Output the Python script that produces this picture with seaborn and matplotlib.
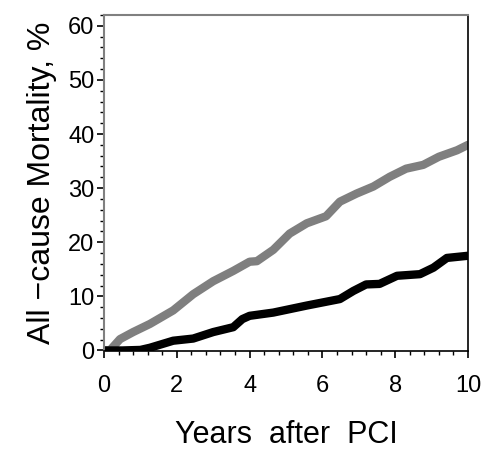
import matplotlib
matplotlib.use("Agg")
import matplotlib.pyplot as plt
from matplotlib.ticker import MultipleLocator
import numpy as np
import pandas as pd
import seaborn as sns

# Kaplan-Meier style cumulative mortality
years_gray = [0.0, 0.16, 0.44, 0.8, 1.26, 1.9, 2.45, 3.0, 3.55, 4.0, 4.2, 4.65,
              5.1, 5.57, 6.1, 6.48, 6.94, 7.4, 7.85, 8.3, 8.77, 9.2, 9.7, 10.0]
mort_gray = [0.0, 0.0, 2.1, 3.4, 4.9, 7.4, 10.4, 12.8, 14.7, 16.4, 16.5, 18.6,
             21.6, 23.5, 24.8, 27.5, 29.0, 30.3, 32.1, 33.6, 34.3, 35.8, 37.0, 38.0]

years_black = [0.0, 0.5, 1.0, 1.26, 1.9, 2.45, 3.0, 3.55, 3.8, 4.0, 4.65, 5.57,
               6.48, 6.85, 7.2, 7.57, 8.05, 8.68, 9.05, 9.42, 10.0]
mort_black = [0.0, 0.0, 0.1, 0.5, 1.8, 2.2, 3.4, 4.3, 5.8, 6.4, 7.0, 8.3,
              9.5, 11.0, 12.2, 12.3, 13.8, 14.1, 15.3, 17.1, 17.5]

df = pd.concat([
    pd.DataFrame({"Years": years_gray, "Mortality": mort_gray, "group": "gray"}),
    pd.DataFrame({"Years": years_black, "Mortality": mort_black, "group": "black"}),
])

sns.set_theme(style="ticks")
plt.rcParams["font.family"] = ["Liberation Sans", "DejaVu Sans"]
plt.rcParams["text.color"] = "black"
plt.rcParams["axes.labelcolor"] = "black"
plt.rcParams["xtick.color"] = "black"
plt.rcParams["ytick.color"] = "black"

fig = plt.figure(figsize=(4.87, 4.5), dpi=100)
ax = fig.add_axes([0.2136, 0.22, 0.7474, 0.7467])

sns.lineplot(data=df, x="Years", y="Mortality", hue="group",
             palette={"gray": "#7f7f7f", "black": "#000000"},
             linewidth=6, legend=False, ax=ax)

ax.set_xlim(0, 10)
ax.set_ylim(-0.1, 62)
ax.set_xticks([0, 2, 4, 6, 8, 10])
ax.set_yticks([0, 10, 20, 30, 40, 50, 60])
ax.xaxis.set_minor_locator(MultipleLocator(0.4))
ax.yaxis.set_minor_locator(MultipleLocator(2))

ax.tick_params(axis="both", which="major", length=5, width=1.2, labelsize=17)
ax.tick_params(axis="x", which="major", pad=12)
ax.tick_params(axis="y", which="major", pad=2)
ax.tick_params(axis="both", which="minor", length=3, width=1.0)

for side in ["top", "left"]:
    ax.spines[side].set_color("#808080")
    ax.spines[side].set_linewidth(1.5)
for side in ["bottom", "right"]:
    ax.spines[side].set_color("black")
    ax.spines[side].set_linewidth(1.2)

ax.set_xlabel("Years  after  PCI", fontsize=22, labelpad=17)
ax.set_ylabel("All \u2212cause Mortality, %", fontsize=23, labelpad=8)

fig.savefig("out.png", dpi=100)
